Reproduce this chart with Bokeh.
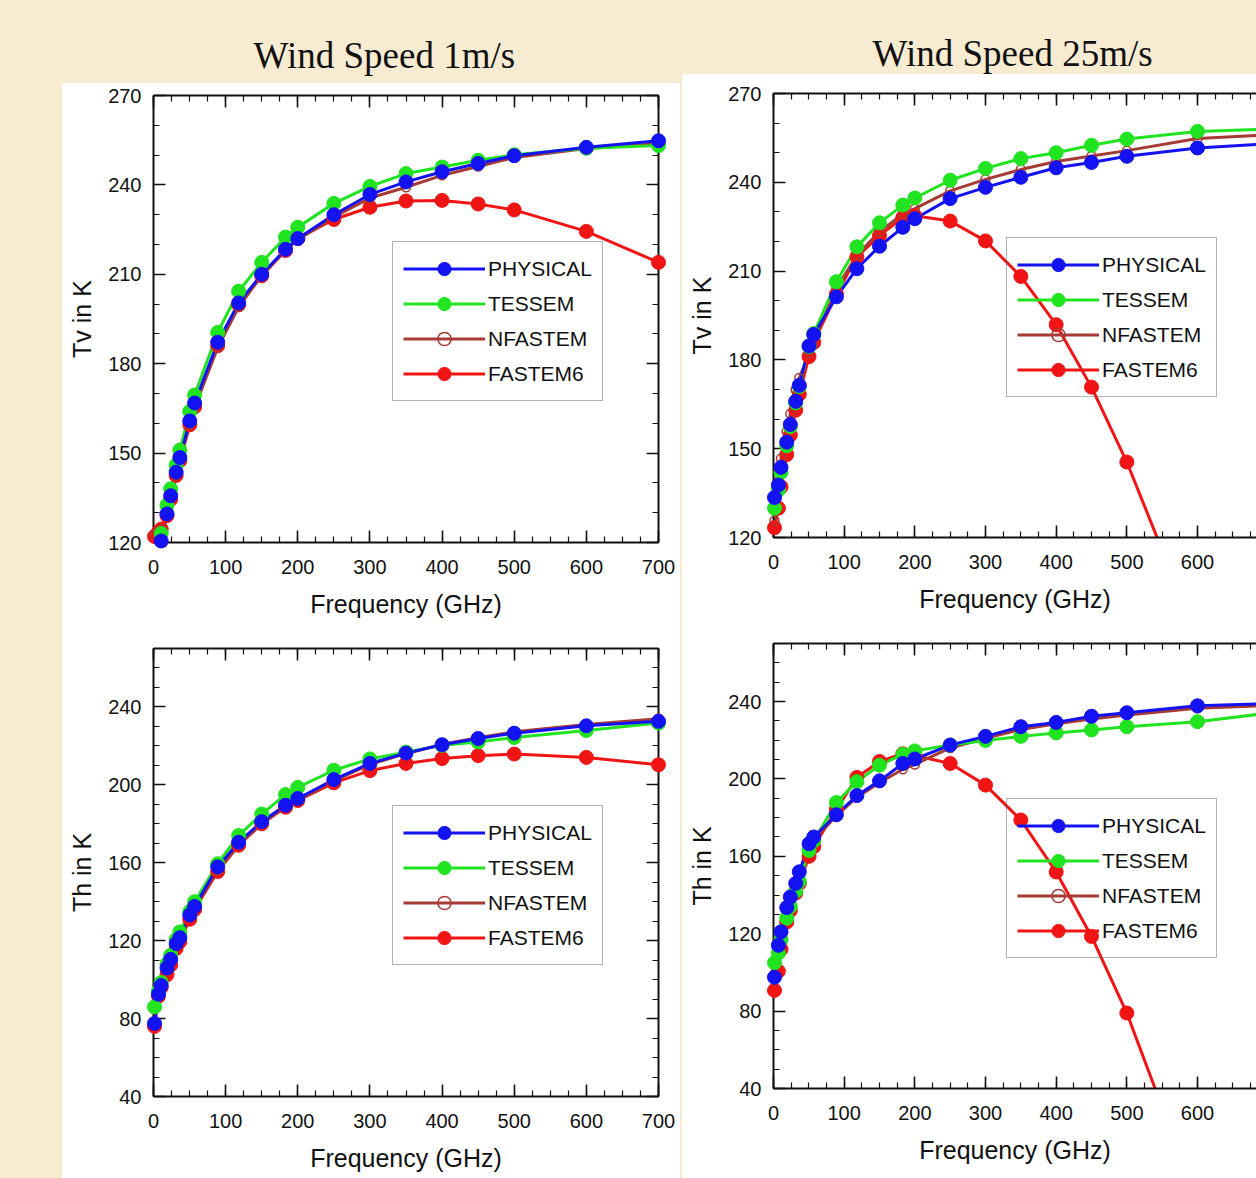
import math
from bokeh.plotting import figure
from bokeh.models import (Range1d, LinearAxis, SingleIntervalTicker, Legend, LegendItem,
                          ColumnDataSource, Label, CustomJSTickFormatter, Spacer)
from bokeh.layouts import row, column
from bokeh.embed import file_html
from bokeh.resources import INLINE

nan = float("nan")

# ---------------- data ----------------
FREQ = [1.4, 6.9, 10.65, 18.7, 23.8, 31.4, 36.5, 50.3, 57.0, 89.0, 118.0,
        150.0, 183.0, 200.0, 250.0, 300.0, 350.0, 400.0, 450.0, 500.0, 600.0, 700.0]

SERIES = ["PHYSICAL", "TESSEM", "NFASTEM", "FASTEM6"]

TITLE_LEFT = "Wind Speed 1m/s"
TITLE_RIGHT = "Wind Speed 25m/s"
X_LABEL = "Frequency (GHz)"
Y_LABEL_TV = "Tv in K"
Y_LABEL_TH = "Th in K"

# Tv, wind speed 1 m/s
TV1_PHYSICAL = [nan, nan, 120.5, 129.6, 135.7, 143.6, 148.5, 160.8, 166.8, 187.2, 200.4,
                210.0, 218.4, 222.0, 230.0, 236.8, 241.0, 244.4, 247.2, 249.8, 252.6, 254.8]
TV1_TESSEM = [nan, nan, 123.0, 132.5, 138.0, 146.0, 151.0, 164.0, 169.5, 190.5, 204.3,
              214.0, 222.5, 225.8, 233.8, 239.5, 243.8, 246.0, 248.3, 250.1, 252.3, 253.2]
TV1_NFASTEM = [122.5, 123.5, 124.5, 129.0, 134.5, 142.5, 147.5, 159.5, 165.5, 185.4, 199.0,
               209.6, 218.0, 221.6, 229.2, 235.6, 239.2, 243.2, 246.2, 249.2, 252.2, 253.8]
TV1_FASTEM6 = [122.0, 123.5, 124.5, 129.0, 134.5, 142.5, 147.5, 159.5, 165.5, 186.0, 199.8,
               209.5, 218.0, 222.0, 228.4, 232.5, 234.6, 234.8, 233.6, 231.6, 224.4, 214.0]

# Tv, wind speed 25 m/s
TV25_PHYSICAL = [133.5, 137.7, 143.7, 152.2, 158.2, 166.0, 171.4, 184.7, 188.6, 201.3, 210.8,
                 218.4, 224.8, 227.7, 234.5, 238.3, 241.7, 244.9, 246.7, 248.8, 251.6, 253.0]
TV25_TESSEM = [129.9, 136.0, 142.0, 151.0, 157.5, 165.5, 171.0, 184.5, 188.9, 206.4, 218.2,
               226.3, 232.3, 234.7, 240.7, 244.7, 248.0, 250.0, 252.5, 254.6, 257.2, 258.0]
TV25_NFASTEM = [125.7, 138.9, 146.7, 155.8, 161.8, 170.0, 173.9, 182.3, 186.5, 204.0, 215.4,
                223.3, 229.3, 231.1, 237.1, 241.0, 244.3, 247.0, 248.9, 250.7, 254.8, 256.0]
TV25_FASTEM6 = [123.3, 129.9, 137.1, 148.0, 154.6, 163.0, 168.4, 181.1, 185.9, 202.2, 214.8,
                222.0, 228.1, 228.7, 226.9, 220.2, 208.2, 191.9, 170.8, 145.5, 86.0, nan]

# Th, wind speed 1 m/s
TH1_PHYSICAL = [77.5, 92.5, 97.0, 106.0, 110.4, 118.5, 121.5, 133.2, 137.6, 157.9, 170.5,
                181.1, 189.5, 193.0, 202.7, 211.0, 216.3, 220.6, 223.8, 226.5, 230.3, 232.6]
TH1_TESSEM = [86.0, 94.0, 98.5, 108.0, 112.5, 120.5, 124.5, 135.0, 140.0, 159.5, 174.0,
              185.0, 195.0, 198.7, 207.5, 213.3, 216.8, 220.3, 222.0, 224.3, 227.9, 231.7]
TH1_NFASTEM = [77.0, 92.0, 96.5, 104.5, 109.0, 117.0, 121.0, 132.0, 137.0, 156.0, 169.5,
               180.0, 189.0, 192.0, 202.0, 210.5, 216.0, 220.8, 224.2, 227.2, 231.0, 234.0]
TH1_FASTEM6 = [76.0, 91.5, 96.0, 102.5, 107.5, 116.0, 119.5, 131.0, 136.0, 155.5, 169.0,
               180.0, 188.5, 192.0, 201.0, 207.3, 211.0, 213.5, 215.0, 215.8, 214.1, 210.3]

# Th, wind speed 25 m/s
TH25_PHYSICAL = [97.5, 114.0, 121.0, 133.5, 139.0, 146.0, 152.0, 166.5, 170.0, 181.5, 191.4,
                 199.0, 208.0, 210.3, 217.5, 222.0, 227.0, 229.2, 232.4, 234.2, 237.8, 239.0]
TH25_TESSEM = [105.0, 110.0, 117.0, 128.0, 134.0, 142.0, 147.0, 163.0, 168.0, 187.8, 198.6,
               207.1, 212.7, 214.5, 217.5, 219.9, 222.0, 223.8, 225.3, 227.0, 229.6, 234.0]
TH25_NFASTEM = [98.0, 112.0, 119.0, 131.0, 137.0, 144.5, 150.5, 164.0, 168.5, 181.0, 190.5,
                198.0, 205.0, 207.5, 216.0, 221.0, 225.5, 228.5, 231.0, 233.0, 236.5, 238.0]
TH25_FASTEM6 = [90.7, 100.6, 112.0, 126.0, 132.0, 141.0, 146.0, 160.0, 165.0, 184.2, 200.8,
                209.0, 213.0, 212.1, 208.0, 196.8, 178.8, 151.9, 118.6, 79.0, -18.5, nan]

# ---------------- style ----------------
BG = "#f7ebd2"
INK = "#111111"
FONT = "Liberation Sans"
SERIF = "Liberation Serif"
COLORS = {"PHYSICAL": "#1212f2", "TESSEM": "#1fe41f", "NFASTEM": "#a63a34", "FASTEM6": "#f01414"}
DRAW_ORDER = ["FASTEM6", "NFASTEM", "TESSEM", "PHYSICAL"]


def style_axis(ax, labels=True):
    ax.axis_line_width = 2
    ax.axis_line_color = INK
    ax.major_tick_in = 12
    ax.major_tick_out = 0
    ax.minor_tick_in = 6
    ax.minor_tick_out = 0
    ax.major_tick_line_width = 1.6
    ax.minor_tick_line_width = 1.2
    ax.major_tick_line_color = INK
    ax.minor_tick_line_color = INK
    ax.major_label_text_font = FONT
    ax.major_label_text_font_size = "20px"
    ax.major_label_text_color = INK
    ax.axis_label_text_font = FONT
    ax.axis_label_text_font_size = "25px"
    ax.axis_label_text_font_style = "normal"
    ax.axis_label_text_color = INK
    if not labels:
        ax.formatter = CustomJSTickFormatter(code="return ''")
        ax.major_label_standoff = 0


def panel(width, height, borders, xmax, yr, yint, yminor, ylabel, series, legend_loc, full_box):
    bl, br, bt, bb = borders
    p = figure(width=width, height=height, x_range=Range1d(0, xmax), y_range=Range1d(*yr),
               output_backend="svg", toolbar_location=None,
               x_axis_label=X_LABEL, y_axis_label=ylabel,
               min_border_left=bl, min_border_right=br, min_border_top=bt, min_border_bottom=bb)
    p.background_fill_color = "white"
    p.border_fill_color = "white"
    p.outline_line_color = None
    p.grid.visible = False

    p.xaxis.ticker = SingleIntervalTicker(interval=100, num_minor_ticks=4)
    p.yaxis.ticker = SingleIntervalTicker(interval=yint, num_minor_ticks=yminor)
    for ax in p.xaxis:
        style_axis(ax)
        ax.major_label_standoff = 17
        ax.axis_label_standoff = 13
    for ax in p.yaxis:
        style_axis(ax)
        ax.major_label_standoff = 12
        ax.axis_label_standoff = 9

    top = LinearAxis(ticker=SingleIntervalTicker(interval=100, num_minor_ticks=4))
    style_axis(top, labels=False)
    p.add_layout(top, "above")
    if full_box:
        right = LinearAxis(ticker=SingleIntervalTicker(interval=yint, num_minor_ticks=yminor))
        style_axis(right, labels=False)
        p.add_layout(right, "right")

    data = {"f": FREQ}
    for name in SERIES:
        vals = series[name]
        data[name] = vals
        data[name + "_m"] = [v if (not math.isnan(v) and yr[0] <= v <= yr[1]) else nan for v in vals]
    src = ColumnDataSource(data)

    lines, marks = {}, {}
    for name in DRAW_ORDER:
        lines[name] = p.line("f", name, source=src, line_color=COLORS[name], line_width=3)
    for name in DRAW_ORDER:
        c = COLORS[name]
        if name == "NFASTEM":
            marks[name] = p.scatter("f", name + "_m", source=src, marker="circle", size=9,
                                    fill_color=None, line_color=c, line_width=1.5, level="overlay")
        else:
            marks[name] = p.scatter("f", name + "_m", source=src, marker="circle", size=14,
                                    fill_color=c, line_color=c, line_width=1, level="overlay")

    items = [LegendItem(label=name, renderers=[lines[name], marks[name]]) for name in SERIES]
    leg = Legend(items=items, location=legend_loc, orientation="vertical",
                 padding=10, spacing=2, margin=0,
                 glyph_width=82, glyph_height=33, label_height=33, label_standoff=3,
                 label_text_font=FONT, label_text_font_size="21px", label_text_color=INK,
                 border_line_color="#666666", border_line_width=1.5,
                 background_fill_alpha=0)
    p.add_layout(leg)
    return p


def header(width, height, text, x_left, y_base):
    h = figure(width=width, height=height, x_range=Range1d(0, width), y_range=Range1d(0, height),
               output_backend="svg", toolbar_location=None, x_axis_type=None, y_axis_type=None,
               min_border=0, min_border_left=0, min_border_right=0,
               min_border_top=0, min_border_bottom=0)
    h.grid.visible = False
    h.outline_line_color = None
    h.background_fill_color = BG
    h.border_fill_color = BG
    h.add_layout(Label(x=x_left, y=y_base, text=text, text_font=SERIF,
                       text_font_size="37px", text_align="left",
                       text_baseline="alphabetic", text_color=INK))
    return h


hdr_l = header(618, 83, TITLE_LEFT, 191, 28)
hdr_r = header(574, 74, TITLE_RIGHT, 190, 21)

tl = panel(618, 557, (91, 22, 12, 98), 700, (120, 270), 30, 3, Y_LABEL_TV,
           {"PHYSICAL": TV1_PHYSICAL, "TESSEM": TV1_TESSEM,
            "NFASTEM": TV1_NFASTEM, "FASTEM6": TV1_FASTEM6}, (239, 141), True)
bl = panel(618, 538, (91, 22, 8, 82), 700, (40, 270), 40, 4, Y_LABEL_TH,
           {"PHYSICAL": TH1_PHYSICAL, "TESSEM": TH1_TESSEM,
            "NFASTEM": TH1_NFASTEM, "FASTEM6": TH1_FASTEM6}, (239, 131), True)
tr = panel(574, 559, (91, 0, 19, 96), 683.5, (120, 270), 30, 3, Y_LABEL_TV,
           {"PHYSICAL": TV25_PHYSICAL, "TESSEM": TV25_TESSEM,
            "NFASTEM": TV25_NFASTEM, "FASTEM6": TV25_FASTEM6}, (233, 140), False)
br = panel(574, 545, (91, 0, 10, 90), 683.5, (40, 270), 40, 4, Y_LABEL_TH,
           {"PHYSICAL": TH25_PHYSICAL, "TESSEM": TH25_TESSEM,
            "NFASTEM": TH25_NFASTEM, "FASTEM6": TH25_FASTEM6}, (233, 130), False)

left_col = column(hdr_l, column(tl, bl, styles={"background-color": "white"}))
right_col = column(hdr_r, column(tr, br, styles={"background-color": "white"}))
page = row(Spacer(width=62, height=1178), left_col, Spacer(width=2, height=1178), right_col,
           styles={"background-color": BG})

open("out.html", "w").write(file_html(page, INLINE))
